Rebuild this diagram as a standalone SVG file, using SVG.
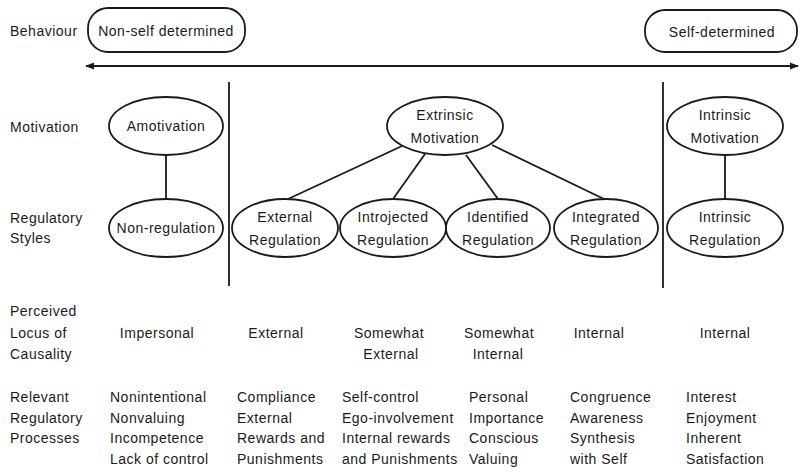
<svg xmlns="http://www.w3.org/2000/svg" width="801" height="475" viewBox="0 0 801 475">
  <style>
    text { font-family: "Liberation Sans", Arial, sans-serif; font-size: 14px; fill: #1a1a1a; letter-spacing: 0.5px; }
    .c { text-anchor: middle; }
    .node { fill: #fff; stroke: #1a1a1a; stroke-width: 1.8; }
    .link { stroke: #1a1a1a; stroke-width: 1.8; fill: none; }
    .rule { stroke: #1a1a1a; stroke-width: 1.8; }
  </style>
  <defs>
    <marker id="tip" viewBox="0 0 10 10" refX="9" refY="5" markerWidth="5" markerHeight="5" orient="auto-start-reverse">
      <path d="M0,1 L10,5 L0,9 Z" fill="#1a1a1a"/>
    </marker>
  </defs>
  <rect width="801" height="475" fill="#fff"/>

  <!-- row labels -->
  <g id="row-labels">
    <text x="10" y="36">Behaviour</text>
    <text x="10" y="132">Motivation</text>
    <text x="10" y="223">Regulatory</text>
    <text x="10" y="243">Styles</text>
    <text x="10" y="316">Perceived</text>
    <text x="10" y="338">Locus of</text>
    <text x="10" y="359">Causality</text>
    <text x="10" y="402">Relevant</text>
    <text x="10" y="423">Regulatory</text>
    <text x="10" y="443">Processes</text>
  </g>

  <!-- behaviour continuum -->
  <g id="non-self-determined">
    <rect class="node" x="88" y="8" width="157" height="44" rx="20"/>
    <text class="c" x="166" y="36">Non-self determined</text>
  </g>
  <g id="self-determined">
    <rect class="node" x="645" y="10" width="152" height="42" rx="20"/>
    <text class="c" x="722" y="37">Self-determined</text>
  </g>
  <g id="continuum">
    <line class="rule" x1="86" y1="66" x2="798" y2="66" marker-start="url(#tip)" marker-end="url(#tip)"/>
  </g>

  <!-- column dividers -->
  <g id="dividers">
    <line class="rule" x1="229" y1="82" x2="229" y2="286"/>
    <line class="rule" x1="663" y1="82" x2="663" y2="288"/>
  </g>

  <!-- connectors -->
  <g id="connectors">
    <line class="link" x1="166" y1="155" x2="166" y2="199"/>
    <line class="link" x1="725" y1="155" x2="725" y2="199"/>
    <line class="link" x1="402" y1="146" x2="288" y2="199"/>
    <line class="link" x1="425" y1="154" x2="393" y2="199"/>
    <line class="link" x1="466" y1="155" x2="498" y2="199"/>
    <line class="link" x1="492" y1="145" x2="604" y2="199"/>
  </g>

  <!-- motivation nodes -->
  <g id="amotivation">
    <ellipse class="node" cx="166" cy="126" rx="57" ry="29"/>
    <text class="c" x="166" y="131">Amotivation</text>
  </g>
  <g id="extrinsic-motivation">
    <ellipse class="node" cx="445" cy="126" rx="58" ry="29"/>
    <text class="c" x="445" y="120">Extrinsic</text>
    <text class="c" x="445" y="143">Motivation</text>
  </g>
  <g id="intrinsic-motivation">
    <ellipse class="node" cx="725" cy="126" rx="58" ry="29"/>
    <text class="c" x="725" y="120">Intrinsic</text>
    <text class="c" x="725" y="143">Motivation</text>
  </g>

  <!-- regulatory style nodes -->
  <g id="non-regulation">
    <ellipse class="node" cx="166" cy="228" rx="57" ry="29"/>
    <text class="c" x="166" y="233">Non-regulation</text>
  </g>
  <g id="external-regulation">
    <ellipse class="node" cx="285" cy="228" rx="53" ry="29"/>
    <text class="c" x="285" y="222">External</text>
    <text class="c" x="285" y="245">Regulation</text>
  </g>
  <g id="introjected-regulation">
    <ellipse class="node" cx="393" cy="228" rx="53" ry="29"/>
    <text class="c" x="393" y="222">Introjected</text>
    <text class="c" x="393" y="245">Regulation</text>
  </g>
  <g id="identified-regulation">
    <ellipse class="node" cx="498" cy="228" rx="52" ry="29"/>
    <text class="c" x="498" y="222">Identified</text>
    <text class="c" x="498" y="245">Regulation</text>
  </g>
  <g id="integrated-regulation">
    <ellipse class="node" cx="606" cy="228" rx="52" ry="29"/>
    <text class="c" x="606" y="222">Integrated</text>
    <text class="c" x="606" y="245">Regulation</text>
  </g>
  <g id="intrinsic-regulation">
    <ellipse class="node" cx="725" cy="228" rx="58" ry="29"/>
    <text class="c" x="725" y="222">Intrinsic</text>
    <text class="c" x="725" y="245">Regulation</text>
  </g>

  <!-- perceived locus of causality -->
  <g id="locus">
    <text class="c" x="157" y="338">Impersonal</text>
    <text class="c" x="276" y="338">External</text>
    <text class="c" x="389" y="338">Somewhat</text>
    <text class="c" x="391" y="359">External</text>
    <text class="c" x="499" y="338">Somewhat</text>
    <text class="c" x="498" y="359">Internal</text>
    <text class="c" x="599" y="338">Internal</text>
    <text class="c" x="725" y="338">Internal</text>
  </g>

  <!-- relevant regulatory processes -->
  <g id="processes">
    <text x="110" y="402">Nonintentional</text>
    <text x="110" y="423">Nonvaluing</text>
    <text x="110" y="443">Incompetence</text>
    <text x="110" y="464">Lack of control</text>

    <text x="237" y="402">Compliance</text>
    <text x="237" y="423">External</text>
    <text x="237" y="443">Rewards and</text>
    <text x="237" y="464">Punishments</text>

    <text x="342" y="402">Self-control</text>
    <text x="342" y="423">Ego-involvement</text>
    <text x="342" y="443">Internal rewards</text>
    <text x="342" y="464">and Punishments</text>

    <text x="469" y="402">Personal</text>
    <text x="469" y="423">Importance</text>
    <text x="469" y="443">Conscious</text>
    <text x="469" y="464">Valuing</text>

    <text x="570" y="402">Congruence</text>
    <text x="570" y="423">Awareness</text>
    <text x="570" y="443">Synthesis</text>
    <text x="570" y="464">with Self</text>

    <text x="686" y="402">Interest</text>
    <text x="686" y="423">Enjoyment</text>
    <text x="686" y="443">Inherent</text>
    <text x="686" y="464">Satisfaction</text>
  </g>
</svg>
